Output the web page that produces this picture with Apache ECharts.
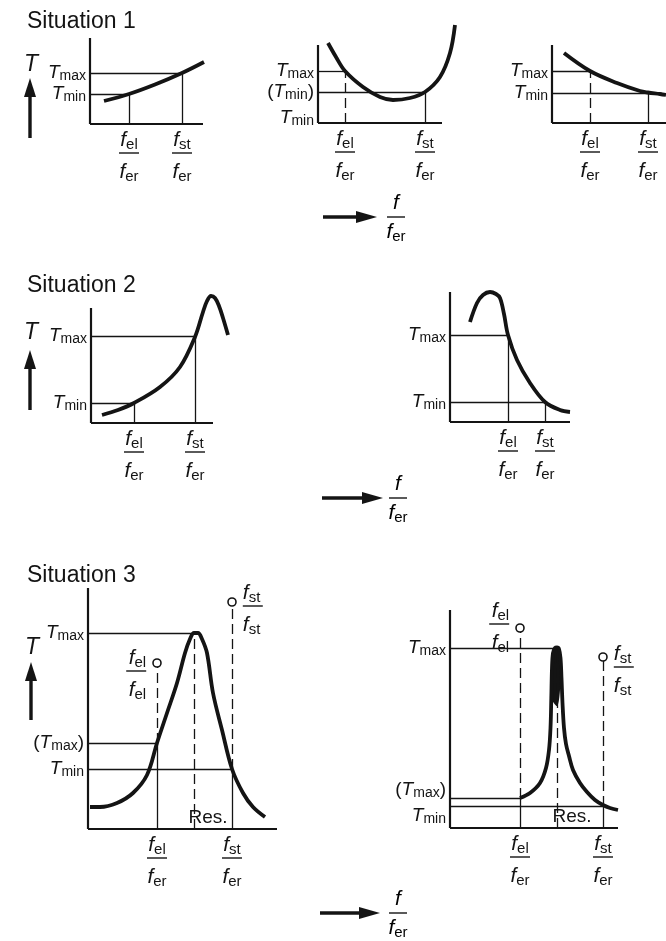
<!DOCTYPE html>
<html>
<head>
<meta charset="utf-8">
<script src="https://cdn.jsdelivr.net/npm/echarts@6/dist/echarts.min.js"></script>
<style>
  html, body { margin: 0; background: #fff; }
  #chart { width: 666px; height: 941px; }
</style>
</head>
<body>
<div id="chart"></div>
<script>
// each panel uses its own arbitrary units: x = f/f_er, y = T (origin at the axes corner)

// Situation 1, left
const s1aCurve = [[14, 23], [39, 30], [65, 39.5], [92, 51], [114, 62]];
const s1aFreq = [39, 92];                 // f_el/f_er, f_st/f_er
const s1aTicks = [51, 30];
const s1aNames = ['T_max', 'T_min'];
const s1aH = [[51, 92, 'solid'], [30, 39, 'solid']];            // level, end x
const s1aV = [[39, 0, 30, 'solid'], [92, 0, 51, 'solid']];      // x, from, to

// Situation 1, middle
const s1bCurve = [[10, 80], [18, 66], [27, 52], [45, 36], [62, 26], [75, 23], [92, 25], [107, 31], [122, 46], [132, 70], [137, 98]];
const s1bFreq = [27, 107];
const s1bTicks = [52, 31, 5];
const s1bNames = ['T_max', '(T_min)', 'T_min'];
const s1bH = [[52, 27, 'solid'], [31, 107, 'solid']];
const s1bV = [[27, 0, 52, 'dashed'], [107, 0, 31, 'solid']];

// Situation 1, right
const s1cCurve = [[12, 70], [38, 52], [65, 40], [88, 32], [96, 30.5], [108, 29], [114, 28]];
const s1cFreq = [38, 96];
const s1cTicks = [52, 30];
const s1cNames = ['T_max', 'T_min'];
const s1cH = [[52, 38, 'solid'], [30, 110, 'solid']];
const s1cV = [[38, 0, 52, 'dashed'], [96, 0, 30, 'solid']];

// Situation 2, left
const s2aCurve = [[11, 8], [27, 13], [43, 20], [69, 36], [89, 56], [104, 86], [112, 111], [116, 122], [120, 127], [124, 125], [128, 117], [132, 105], [137, 88]];
const s2aFreq = [43, 104];
const s2aTicks = [87, 20];
const s2aNames = ['T_max', 'T_min'];
const s2aH = [[87, 104, 'solid'], [20, 43, 'solid']];
const s2aV = [[43, 0, 20, 'solid'], [104, 0, 87, 'solid']];

// Situation 2, right
const s2bCurve = [[20, 100], [27, 119], [33, 127], [40, 130], [46, 128], [50, 124], [54, 108], [58, 87], [67, 62], [80, 39], [95, 20], [110, 12], [120, 10]];
const s2bFreq = [58, 95];
const s2bTicks = [87, 20];
const s2bNames = ['T_max', 'T_min'];
const s2bH = [[87, 58, 'solid'], [20, 95, 'solid']];
const s2bV = [[58, 0, 87, 'solid'], [95, 0, 20, 'solid']];

// Situation 3, left
const s3aCurve = [[2, 22], [12, 22], [29, 26], [45, 36], [59, 54], [69, 86], [79, 116], [89, 146], [97, 176], [102, 190], [106, 196], [110, 196], [114, 190], [119, 176], [125, 136], [134, 99], [144, 60], [155, 36], [165, 22], [177, 12]];
const s3aFreq = [69, 144];
const s3aTicks = [196, 86, 60];
const s3aNames = ['T_max', '(T_max)', 'T_min'];
const s3aH = [[196, 106, 'solid'], [86, 69, 'solid'], [60, 144, 'solid']];
const s3aV = [[69, 0, 86, 'solid'], [69, 86, 162, 'dashed'], [144, 0, 60, 'solid'], [144, 60, 223, 'dashed'], [106, 0, 196, 'dashed']];
const s3aPins = [[69, 166, 'el'], [144, 227, 'st']];
const s3aRes = [120, 11];

// Situation 3, right
const s3bCurve = [[70, 30], [80, 35], [90, 45], [96, 60], [99, 78], [100.5, 100], [101.3, 130], [102, 160], [103, 175], [105, 180], [107, 180.5], [109, 179], [110.5, 170], [111.5, 150], [112.5, 125], [114, 100], [116, 84], [119, 72], [123, 58], [130, 45], [137, 36], [145, 28], [153, 23], [160, 20], [168, 18]];
const s3bWedge = [[101.3, 130], [101.8, 162], [103, 177], [106, 180.5], [109, 179], [110.5, 168], [110.8, 150], [107.5, 122]];
const s3bFreq = [70, 153];
const s3bTicks = [180, 38, 12];
const s3bNames = ['T_max', '(T_max)', 'T_min'];
const s3bH = [[180, 107, 'solid'], [30, 70, 'solid'], [22, 153, 'solid']];
const s3bV = [[70, 0, 30, 'solid'], [70, 30, 196, 'dashed'], [153, 0, 22, 'solid'], [153, 22, 167, 'dashed'], [107, 0, 180, 'dashed']];
const s3bPins = [[70, 200, 'el'], [153, 171, 'st']];
const s3bRes = [122, 11];

const freqNames = ['el', 'st'];

const INK = '#141414';
const FONT = '"Liberation Sans", Arial, sans-serif';

const rich = {
  t: { fontFamily: FONT, fontStyle: 'italic', fontSize: 19, lineHeight: 20, color: INK },
  p: { fontFamily: FONT, fontSize: 19, lineHeight: 20, color: INK },
  s: { fontFamily: FONT, fontSize: 14, lineHeight: 10, padding: [6, 0, 0, 0], color: INK },
  f: { fontFamily: FONT, fontStyle: 'italic', fontSize: 21, lineHeight: 20, color: INK },
  g: { fontFamily: FONT, fontStyle: 'italic', fontSize: 21, lineHeight: 32, color: INK },
  sf: { fontFamily: FONT, fontSize: 15, lineHeight: 10, padding: [10, 0, 0, 0], color: INK },
  bar: { width: 20, height: 1.4, lineHeight: 6, backgroundColor: INK },
  // arrow label f / f_er
  h: { fontFamily: FONT, fontStyle: 'italic', fontSize: 21, lineHeight: 24, color: INK },
  k: { fontFamily: FONT, fontStyle: 'italic', fontSize: 21, lineHeight: 26, color: INK },
  barS: { width: 18, height: 1.4, lineHeight: 4, backgroundColor: INK }
};

function tex(name) {
  const m = name.match(/^(\(?)(\w)_(\w+)(\)?)$/);
  return (m[1] ? '{p|(}' : '') + '{t|' + m[2] + '}{s|' + m[3] + '}' + (m[4] ? '{p|)}' : '');
}
function frac(top, bottom) {
  return '{f|f}{sf|' + top + '}\n{bar|}\n{g|f}{sf|' + bottom + '}';
}

// layout: [left, top, width, height] of each axes box; pin label side and vertical shift
const panels = [
  { box: [90, 38, 113, 86], curve: s1aCurve, freq: s1aFreq, ticks: s1aTicks, names: s1aNames, h: s1aH, v: s1aV },
  { box: [318, 45, 124, 78], curve: s1bCurve, freq: s1bFreq, ticks: s1bTicks, names: s1bNames, h: s1bH, v: s1bV },
  { box: [552, 45, 114, 78], curve: s1cCurve, freq: s1cFreq, ticks: s1cTicks, names: s1cNames, h: s1cH, v: s1cV },
  { box: [91, 308, 122, 115], curve: s2aCurve, freq: s2aFreq, ticks: s2aTicks, names: s2aNames, h: s2aH, v: s2aV },
  { box: [450, 292, 120, 130], curve: s2bCurve, freq: s2bFreq, ticks: s2bTicks, names: s2bNames, h: s2bH, v: s2bV },
  { box: [88, 588, 189, 241], curve: s3aCurve, freq: s3aFreq, ticks: s3aTicks, names: s3aNames, h: s3aH, v: s3aV,
    pins: s3aPins, pinSide: ['left', 'right'], pinDy: [14, 10], res: s3aRes },
  { box: [450, 610, 168, 218], curve: s3bCurve, freq: s3bFreq, ticks: s3bTicks, names: s3bNames, h: s3bH, v: s3bV,
    pins: s3bPins, pinSide: ['left', 'right'], pinDy: [2, 16], res: s3bRes, wedge: s3bWedge }
];

const grid = [], xAxis = [], yAxis = [], series = [];

panels.forEach((p, i) => {
  const [left, top, width, height] = p.box;
  // let the grid cover everything the curve reaches; axis lines are drawn to the box only
  const xs = p.curve.map(d => d[0]), ys = p.curve.map(d => d[1]).concat((p.pins || []).map(d => d[1]));
  const W = Math.max(width, Math.max(...xs) + 2);
  const H = Math.max(height, Math.max(...ys) + 6);
  grid.push({ left, top: top + height - H, width: W, height: H, containLabel: false, outerBoundsMode: 'none' });
  xAxis.push({
    type: 'value', gridIndex: i, min: 0, max: W,
    axisLine: { show: false }, axisTick: { show: false }, splitLine: { show: false },
    axisLabel: {
      customValues: p.freq, margin: 6, rich,
      formatter: v => frac(freqNames[p.freq.indexOf(v)], 'er')
    }
  });
  yAxis.push({
    type: 'value', gridIndex: i, min: 0, max: H,
    axisLine: { show: false }, axisTick: { show: false }, splitLine: { show: false },
    axisLabel: {
      customValues: p.ticks, margin: 4, rich,
      formatter: v => tex(p.names[p.ticks.indexOf(v)])
    }
  });

  const thin = { color: INK, width: 1.3 };
  const guides = [
    [{ coord: [0, 0], lineStyle: { type: 'solid', color: INK, width: 2.2 } }, { coord: [width, 0] }],
    [{ coord: [0, 0], lineStyle: { type: 'solid', color: INK, width: 2.2 } }, { coord: [0, height] }]
  ];
  p.h.forEach(([y, x2, type]) => guides.push([
    { coord: [0, y], lineStyle: Object.assign({ type: type === 'dashed' ? [10, 5] : 'solid' }, thin) }, { coord: [x2, y] }
  ]));
  p.v.forEach(([x, y1, y2, type]) => guides.push([
    { coord: [x, y1], lineStyle: Object.assign({ type: type === 'dashed' ? [10, 5] : 'solid' }, thin) }, { coord: [x, y2] }
  ]));

  series.push({
    type: 'line', xAxisIndex: i, yAxisIndex: i, data: p.curve,
    smooth: 0.35, showSymbol: false, clip: false, z: 3,
    lineStyle: { color: INK, width: 3.8 },
    markLine: {
      silent: true, symbol: ['none', 'none'], animation: false,
      label: { show: false }, emphasis: { disabled: true },
      lineStyle: { color: INK, width: 1.3, type: 'solid' },
      data: guides
    }
  });

  if (p.wedge) {
    // the blackened inside of the very sharp resonance peak
    const wedge = p.wedge;
    series.push({
      type: 'custom', xAxisIndex: i, yAxisIndex: i, z: 3, silent: true,
      data: [wedge[0]],
      renderItem: (params, api) => ({
        type: 'polygon',
        shape: { points: wedge.map(d => api.coord(d)), smooth: 0.3 },
        style: { fill: INK }
      })
    });
  }

  if (p.pins) {
    series.push({
      type: 'scatter', xAxisIndex: i, yAxisIndex: i, clip: false, z: 4,
      symbol: 'circle', symbolSize: 8,
      itemStyle: { color: '#fff', borderColor: INK, borderWidth: 1.6, opacity: 1 },
      data: p.pins.map(([x, y, name], k) => ({
        value: [x, y],
        label: {
          show: true, position: p.pinSide[k], distance: 6, offset: [0, p.pinDy[k]], rich,
          formatter: frac(name, name)
        }
      }))
    });
  }

  if (p.res) {
    series.push({
      type: 'scatter', xAxisIndex: i, yAxisIndex: i, symbolSize: 0, clip: false,
      itemStyle: { opacity: 1 },
      data: [p.res],
      label: {
        show: true, position: 'inside', formatter: 'Res.',
        fontFamily: FONT, fontSize: 19, color: INK
      }
    });
  }
});

function upArrow(x, yTop, yBottom) {
  return [
    { type: 'rect', shape: { x: x - 1.7, y: yTop + 12, width: 3.4, height: yBottom - yTop - 12 }, style: { fill: INK } },
    { type: 'polygon', shape: { points: [[x, yTop], [x - 6, yTop + 19], [x + 6, yTop + 19]] }, style: { fill: INK } }
  ];
}
function rightArrow(x1, x2, y, labelX) {
  return [
    { type: 'rect', shape: { x: x1, y: y - 1.7, width: x2 - x1 - 12, height: 3.4 }, style: { fill: INK } },
    { type: 'polygon', shape: { points: [[x2, y], [x2 - 21, y - 6], [x2 - 21, y + 6]] }, style: { fill: INK } },
    {
      type: 'text', x: labelX, y: y + 1,
      style: { text: '{h|f}\n{barS|}\n{k|f}{sf|er}', rich, align: 'center', verticalAlign: 'middle' }
    }
  ];
}
function bigT(x, y) {
  return {
    type: 'text', x, y,
    style: { text: 'T', fontFamily: FONT, fontStyle: 'italic', fontSize: 23, fill: INK, align: 'center', verticalAlign: 'middle' }
  };
}

const graphic = [
  bigT(31, 65), ...upArrow(30, 78, 138),
  bigT(31, 333), ...upArrow(30, 350, 410),
  bigT(32, 648), ...upArrow(31, 662, 720),
  ...rightArrow(323, 377, 217, 396),
  ...rightArrow(322, 383, 498, 398),
  ...rightArrow(320, 380, 913, 398)
];

const titleStyle = { fontFamily: FONT, fontSize: 23, fontWeight: 'normal', color: INK };
const chart = echarts.init(document.getElementById('chart'), null, { renderer: 'canvas' });
chart.setOption({
  backgroundColor: '#fff',
  animation: false,
  title: [
    { text: 'Situation 1', left: 22, top: 5, textStyle: titleStyle },
    { text: 'Situation 2', left: 22, top: 269, textStyle: titleStyle },
    { text: 'Situation 3', left: 22, top: 559, textStyle: titleStyle }
  ],
  grid, xAxis, yAxis, series, graphic
});
</script>
</body>
</html>
